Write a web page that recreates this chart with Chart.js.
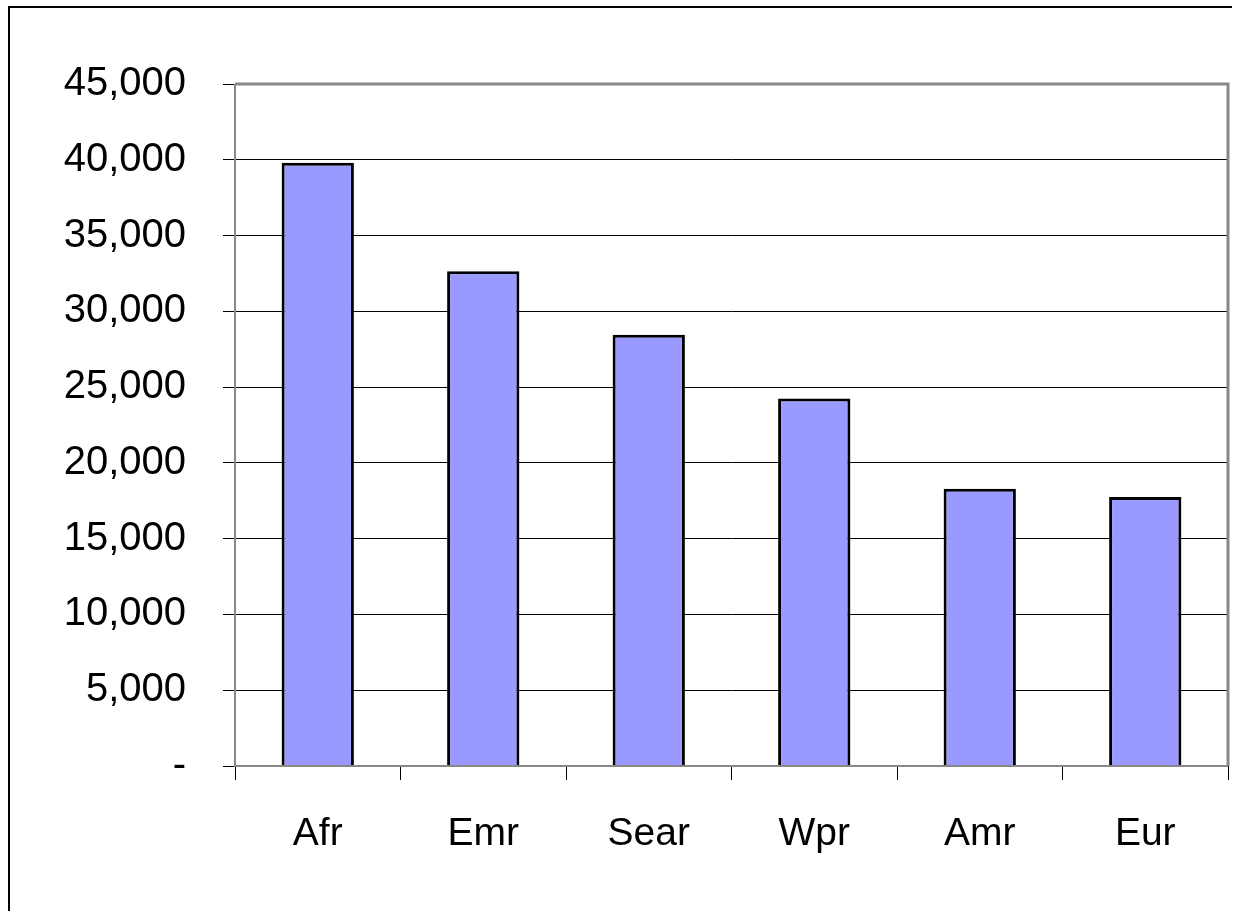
<!DOCTYPE html>
<html>
<head>
<meta charset="utf-8">
<script src="https://cdn.jsdelivr.net/npm/chart.js@4/dist/chart.umd.min.js"></script>
<style>
  html, body { margin: 0; padding: 0; background: #fff; }
  #wrap { position: relative; width: 1241px; height: 911px; }
  #frame { position: absolute; left: 8px; top: 6px; width: 1224px; height: 920px;
           border-top: 2px solid #000; border-left: 2px solid #000; box-sizing: border-box; }
  canvas { position: absolute; left: 0; top: 0; }
</style>
</head>
<body>
<div id="wrap">
  <div id="frame"></div>
  <canvas id="chart" width="1241" height="911"></canvas>
</div>
<script>
// regions and values
var regions = ["Afr", "Emr", "Sear", "Wpr", "Amr", "Eur"];
var counts = [39800, 32650, 28450, 24250, 18300, 17750];
var yMax = 45000;
var yStep = 5000;

// grey frame round the plot area, drawn after everything else
var plotFrame = {
    id: 'plotFrame',
    afterDraw: function(chart) {
        var a = chart.chartArea;
        var ctx = chart.ctx;
        ctx.save();
        ctx.strokeStyle = '#888888';
        ctx.lineWidth = 3;
        ctx.beginPath();
        ctx.moveTo(a.left, a.top);
        ctx.lineTo(a.right, a.top);
        ctx.lineTo(a.right, a.bottom);
        ctx.stroke();
        ctx.lineWidth = 2;
        ctx.beginPath();
        ctx.moveTo(a.left, a.top);
        ctx.lineTo(a.left, a.bottom);
        ctx.lineTo(a.right, a.bottom);
        ctx.stroke();
        ctx.restore();
    }
};

var ctx = document.getElementById("chart").getContext('2d');
var myChart = new Chart(ctx, {
    type: 'bar',
    data: {
        labels: regions,
        datasets: [{
            data: counts,
            backgroundColor: '#9999FF',
            borderColor: '#000000',
            borderWidth: 3,
            borderSkipped: 'bottom',
            categoryPercentage: 0.84,
            barPercentage: 0.52
        }]
    },
    options: {
        responsive: false,
        animation: false,
        layout: { padding: { top: 84, right: 13, left: 0, bottom: 0 } },
        plugins: {
            legend: { display: false },
            tooltip: { enabled: false }
        },
        scales: {
            x: {
                afterFit: function(scale) { scale.height = 145; },
                grid: {
                    offset: true,
                    drawOnChartArea: false,
                    color: '#000',
                    tickLength: 14
                },
                border: { display: false },
                ticks: {
                    color: '#000',
                    padding: 31,
                    font: { family: 'Liberation Sans', size: 39 }
                }
            },
            y: {
                min: 0,
                max: yMax,
                afterFit: function(scale) { scale.width = 235; },
                grid: {
                    color: '#000',
                    lineWidth: 1,
                    tickLength: 12
                },
                border: { display: false },
                ticks: {
                    stepSize: yStep,
                    color: '#000',
                    padding: 37,
                    font: { family: 'Liberation Sans', size: 40 },
                    callback: function(v) { return v === 0 ? '-' : v.toLocaleString('en-US'); }
                }
            }
        }
    },
    plugins: [plotFrame]
});
</script>
</body>
</html>
